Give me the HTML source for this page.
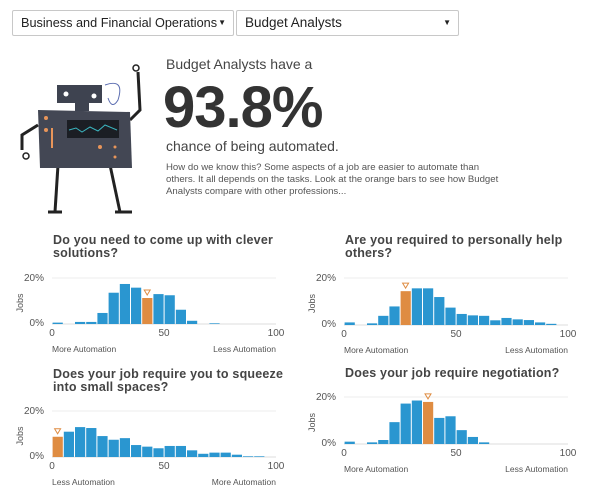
<!DOCTYPE html>
<html><head><style>
body{margin:0;width:600px;height:494px;background:#fff;font-family:"Liberation Sans",sans-serif;position:relative;overflow:hidden;color:#444}
.sel{position:absolute;top:10px;height:26px;border:1px solid #c8c8c8;border-radius:2px;box-sizing:border-box;font-size:13.5px;line-height:24px;padding-left:8px;color:#222;white-space:nowrap;overflow:hidden}
.sel span{position:absolute;right:7px;font-size:8px;top:0}
.t{position:absolute;font-weight:bold;font-size:12.5px;line-height:13px;color:#444;letter-spacing:0.2px}
</style></head><body>
<div class="sel" style="left:12px;width:222px;font-size:12.7px">Business and Financial Operations<span>▼</span></div>
<div class="sel" style="left:236px;width:223px">Budget Analysts<span>▼</span></div>

<svg style="position:absolute;left:0;top:0" width="170" height="220">
<g stroke="#222" stroke-width="3" fill="none">
<path d="M138 72 L140 110 L130 120"/><path d="M38 125 L22 135 L22 150"/>
<path d="M58 165 L55 212"/><path d="M110 165 L120 212"/>
<path d="M48 212 L62 212"/><path d="M115 212 L132 212"/>
</g>
<circle cx="136" cy="68" r="3" stroke="#222" stroke-width="1.5" fill="none"/>
<circle cx="26" cy="156" r="3" stroke="#222" stroke-width="1.5" fill="none"/>
<path d="M105 85 Q125 78 118 100 Q112 110 108 98" stroke="#5a6cb0" fill="none" stroke-width="1"/>
<rect x="57" y="85" width="45" height="18" fill="#3e4350"/>
<circle cx="66" cy="94" r="2.5" fill="#fff"/><circle cx="94" cy="96" r="2.5" fill="#fff"/>
<rect x="75" y="103" width="14" height="8" fill="#3e4350"/>
<path d="M38 110 L130 112 L132 168 L40 168 Z" fill="#434754"/>
<rect x="67" y="120" width="52" height="18" fill="#1b1e24"/>
<path d="M69 130 L76 128 L82 132 L90 127 L98 131 L105 125 L117 130" stroke="#3bb6c0" fill="none" stroke-width="1"/>
<g fill="#e8955a"><circle cx="46" cy="118" r="2"/><circle cx="46" cy="130" r="2"/><rect x="51" y="128" width="2" height="20"/><circle cx="100" cy="147" r="2"/><circle cx="115" cy="147" r="1.5"/><circle cx="115" cy="157" r="1.5"/></g>
</svg>

<div style="position:absolute;left:166px;top:56px;font-size:14px;color:#444">Budget Analysts have a</div>
<div style="position:absolute;left:163px;top:74px;font-size:58px;font-weight:bold;color:#333;letter-spacing:-1px">93.8%</div>
<div style="position:absolute;left:166px;top:138px;font-size:14px;color:#444">chance of being automated.</div>
<div style="position:absolute;left:166px;top:162px;width:440px;font-size:9.6px;line-height:12px;color:#555">How do we know this? Some aspects of a job are easier to automate than<br>others. It all depends on the tasks. Look at the orange bars to see how Budget<br>Analysts compare with other professions...</div>

<div class="t" style="left:53px;top:234px">Do you need to come up with clever<br>solutions?</div>
<div class="t" style="left:345px;top:234px">Are you required to personally help<br>others?</div>
<div class="t" style="left:53px;top:368px">Does your job require you to squeeze<br>into small spaces?</div>
<div class="t" style="left:345px;top:367px">Does your job require negotiation?</div>

<svg id="c" style="position:absolute;left:0;top:0" width="600" height="494" font-family="Liberation Sans, sans-serif"></svg>
<script>
const S=document.getElementById('c');let h='';
function chart(x0,base,top,vals,ori,l,r){
 const pp=(base-top)/20;
 h+=`<line x1="${x0}" x2="${x0+224}" y1="${top}" y2="${top}" stroke="#eee"/><line x1="${x0}" x2="${x0+224}" y1="${base}" y2="${base}" stroke="#ddd"/>`;
 vals.forEach((v,i)=>{if(!v)return;const bh=v*pp;const x=x0+i*11.2+0.6;
  h+=`<rect x="${x}" y="${base-bh}" width="10.2" height="${bh}" fill="${i==ori?'#df8c42':'#2a96d0'}"/>`;
  if(i==ori)h+=`<path d="M${x+2} ${base-bh-8} h6 l-3 5z" fill="none" stroke="#df8c42" stroke-width="1"/>`;});
 h+=`<g font-size="10" fill="#555"><text x="${x0-8}" y="${top+3}" text-anchor="end">20%</text><text x="${x0-8}" y="${base+2}" text-anchor="end">0%</text>
 <text x="${x0}" y="${base+12}" text-anchor="middle">0</text><text x="${x0+112}" y="${base+12}" text-anchor="middle">50</text><text x="${x0+224}" y="${base+12}" text-anchor="middle">100</text>
 <text transform="translate(${x0-29},${(base+top)/2+2}) rotate(-90)" text-anchor="middle" font-size="9">Jobs</text></g>
 <g font-size="8.5" fill="#555"><text x="${x0}" y="${base+28}">${l}</text><text x="${x0+224}" y="${base+28}" text-anchor="end">${r}</text></g>`;}
chart(52,324,278,[0.6,0,0.9,0.9,4.8,13.6,17.4,15.8,11.3,13,12.5,6.2,1.4,0,0.3,0,0,0,0,0],8,'More Automation','Less Automation');
chart(344,325,278,[1.1,0,0.7,3.9,7.9,14.4,15.6,15.6,11.9,7.4,4.7,4.1,3.9,2,3,2.4,2.1,1.1,0.5,0],5,'More Automation','Less Automation');
chart(52,457,411,[8.8,11,13,12.6,9.1,7.5,8.2,5.2,4.5,3.8,4.8,4.8,2.9,1.4,1.9,1.9,1,0.3,0.3,0],0,'Less Automation','More Automation');
chart(344,444,397,[1,0,0.7,1.7,9.3,17.2,18.5,17.9,11.1,11.8,5.9,3,0.7,0,0,0,0,0,0,0],7,'More Automation','Less Automation');
S.innerHTML=h;
</script>
</body></html>
